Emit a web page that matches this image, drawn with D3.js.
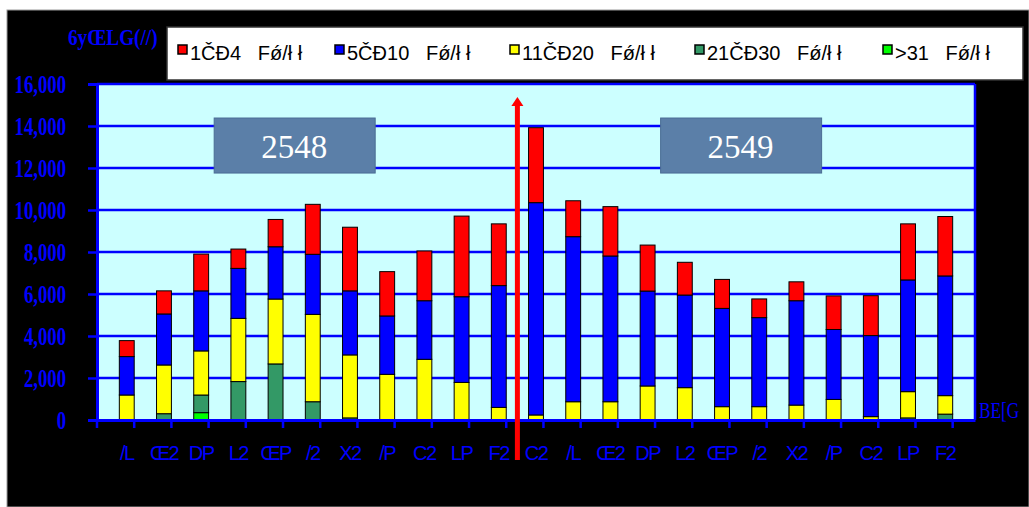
<!DOCTYPE html>
<html>
<head>
<meta charset="utf-8">
<script src="https://cdn.jsdelivr.net/npm/d3@7"></script>
<style>
  body { margin: 0; background: #fff; }
  svg { display: block; }
</style>
</head>
<body>
<svg width="1029" height="507"></svg>
<script>
// month labels as they show on the chart (year 2548: Feb-Dec, 2549: Jan-Dec)
var months = ["/L","Œ2","DP","L2","ŒP","/2","X2","/P","C2","LP","F2",
              "C2","/L","Œ2","DP","L2","ŒP","/2","X2","/P","C2","LP","F2"];
var yTicks = [0, 2000, 4000, 6000, 8000, 10000, 12000, 14000, 16000];
var tickText = ["0","2,000","4,000","6,000","8,000","10,000","12,000","14,000","16,000"];

var seriesNames = ["1ČĐ4   Fǿ/ł ł", "5ČĐ10   Fǿ/ł ł", "11ČĐ20   Fǿ/ł ł", "21ČĐ30   Fǿ/ł ł", ">31   Fǿ/ł ł"];
var seriesColors = ["#ff0000", "#0000ff", "#ffff00", "#339966", "#00ff00"];

var s1to4   = [760,1100,1750,920,1300,2380,3030,2110,2370,3840,2940, 3570,1710,2350,2190,1560,1380,890,900,1600,1900,2670,2830];
var s5to10  = [1830,2430,2860,2380,2490,2860,3050,2780,2790,4080,5800, 10110,7860,6940,4520,4410,4680,4240,4970,3330,3860,5320,5700];
var s11to20 = [1190,2320,2100,3010,3090,4160,3000,2175,2890,1790,600, 240,870,870,1620,1540,635,635,710,980,160,1250,880];
var s21to30 = [0,300,840,1830,2670,870,100,0,0,0,0, 0,0,0,0,0,0,0,0,0,0,100,280];
var s31     = [0,0,350,0,0,0,0,0,0,0,0, 0,0,0,0,0,0,0,0,0,0,0,0];

var years = ["2548", "2549"];

function main(){
    var svg = d3.select("svg");
    var left = 97, right = 975, top = 84, bottom = 420;

    // outer black frame
    svg.append("rect").attr("x", 7).attr("y", 10).attr("width", 1022).attr("height", 497)
        .attr("fill", "#000").attr("stroke", "#999").attr("stroke-width", 1);

    var table = months.map(function(m, i){
        return { key: i, label: m, g31: s31[i], g21: s21to30[i], g11: s11to20[i], g5: s5to10[i], g1: s1to4[i] };
    });
    var keys = ["g31", "g21", "g11", "g5", "g1"];
    var keyColor = { g1: seriesColors[0], g5: seriesColors[1], g11: seriesColors[2], g21: seriesColors[3], g31: seriesColors[4] };

    var xScale = d3.scaleBand().domain(table.map(function(d){ return d.key; }))
        .range([left, right]).padding(0.6);
    var yScale = d3.scaleLinear().domain([0, 16000]).range([bottom, top]);

    // plot area
    svg.append("rect").attr("x", left).attr("y", top).attr("width", right - left).attr("height", bottom - top)
        .attr("fill", "#ccffff");

    // grid lines
    svg.append("g").selectAll("line").data(yTicks.slice(1)).enter().append("line")
        .attr("x1", left).attr("x2", right)
        .attr("y1", function(d){ return yScale(d); }).attr("y2", function(d){ return yScale(d); })
        .attr("stroke", "#0000ff").attr("stroke-width", 2.5);
    svg.append("line").attr("x1", right).attr("x2", right).attr("y1", top).attr("y2", bottom)
        .attr("stroke", "#0000ff").attr("stroke-width", 2.5);

    // year boxes
    var step = xScale.step();
    function boundary(i){ return xScale(i) - (step - xScale.bandwidth()) / 2; }
    var boxCenters = [boundary(5), boundary(17)];
    var yb = svg.append("g").selectAll("g").data(years).enter().append("g");
    yb.append("rect")
        .attr("x", function(d, i){ return boxCenters[i] - 80; })
        .attr("y", yScale(14380)).attr("width", 161).attr("height", yScale(11760) - yScale(14380))
        .attr("fill", "#5b7fa8").attr("stroke", "#4a6c94").attr("stroke-width", 1);
    yb.append("text")
        .attr("x", function(d, i){ return boxCenters[i]; })
        .attr("y", (yScale(14380) + yScale(11760)) / 2 + 12)
        .attr("text-anchor", "middle").attr("fill", "#fff")
        .style("font-family", "Liberation Serif").style("font-size", "33px")
        .text(function(d){ return d; });

    // stacked bars
    var stacked = d3.stack().keys(keys)(table);
    svg.append("g").selectAll("g").data(stacked).enter().append("g")
        .attr("fill", function(s){ return keyColor[s.key]; })
        .selectAll("rect").data(function(s){ return s.filter(function(d){ return d[1] - d[0] > 0; }); })
        .enter().append("rect")
        .attr("x", function(d){ return xScale(d.data.key); })
        .attr("y", function(d){ return yScale(d[1]); })
        .attr("width", xScale.bandwidth())
        .attr("height", function(d){ return yScale(d[0]) - yScale(d[1]); })
        .attr("stroke", "#000").attr("stroke-width", 1);

    // y axis (labels drawn condensed, like the original's squeezed bold serif)
    var yAxis = svg.append("g").attr("transform", "translate(" + left + ",0)")
        .call(d3.axisLeft(yScale).tickValues(yTicks).tickSize(9)
            .tickFormat(function(d, i){ return tickText[i]; }));
    yAxis.select(".domain").attr("stroke", "#0000ff").attr("stroke-width", 3);
    yAxis.selectAll(".tick line").attr("stroke", "#0000ff").attr("stroke-width", 2.5);
    yAxis.selectAll(".tick text").remove();
    yAxis.selectAll(".tick").append("text")
        .attr("transform", "translate(-31,8) scale(0.72,1)")
        .attr("text-anchor", "end").attr("fill", "#0000ff")
        .attr("font-family", "Liberation Serif").attr("font-weight", "bold").attr("font-size", 26)
        .text(function(d, i){ return tickText[i]; });

    // x axis
    var xAxis = svg.append("g").attr("transform", "translate(0," + bottom + ")")
        .call(d3.axisBottom(xScale).tickSize(0).tickPadding(26)
            .tickFormat(function(d){ return months[d]; }));
    xAxis.select(".domain").attr("stroke", "#0000ff").attr("stroke-width", 3);
    xAxis.selectAll(".tick text").attr("fill", "#0000ff")
        .attr("font-family", "Liberation Sans").attr("font-size", 20)
        .attr("letter-spacing", "-1.5px");
    // tick marks between categories
    svg.append("g").selectAll("line").data(d3.range(table.length + 1)).enter().append("line")
        .attr("x1", function(i){ return left + i * step; }).attr("x2", function(i){ return left + i * step; })
        .attr("y1", bottom).attr("y2", bottom + 8)
        .attr("stroke", "#0000ff").attr("stroke-width", 2.5);

    // axis titles
    svg.append("text").attr("transform", "translate(68,45) scale(0.8,1)")
        .attr("fill", "#0000ff").attr("font-family", "Liberation Serif").attr("font-weight", "bold")
        .attr("font-size", 24).text("6yŒLG(//)");
    svg.append("text").attr("transform", "translate(979,418) scale(0.75,1)")
        .attr("fill", "#0000ff").attr("font-family", "Liberation Serif").attr("font-size", 23)
        .text("BE[G");

    // red divider arrow
    var ax = boundary(11);
    svg.append("line").attr("x1", ax).attr("x2", ax).attr("y1", 460).attr("y2", 104)
        .attr("stroke", "#ff0000").attr("stroke-width", 5);
    svg.append("path")
        .attr("d", "M" + (ax - 6) + ",106 L" + ax + ",97 L" + (ax + 6) + ",106 Z")
        .attr("fill", "#ff0000");

    // legend
    var lg = svg.append("g");
    lg.append("rect").attr("x", 167).attr("y", 27).attr("width", 856).attr("height", 53)
        .attr("fill", "#fff").attr("stroke", "#333").attr("stroke-width", 1.5);
    var legX = [178, 335, 510, 695, 883];
    var item = lg.selectAll("g").data(seriesNames).enter().append("g")
        .attr("transform", function(d, i){ return "translate(" + legX[i] + ",50)"; });
    item.append("rect").attr("width", 9).attr("height", 9).attr("y", -5)
        .attr("fill", function(d, i){ return seriesColors[i]; })
        .attr("stroke", "#000").attr("stroke-width", 1.5);
    item.append("text").attr("x", 12).attr("y", 10)
        .style("font-family", "Liberation Sans").style("font-size", "20px").attr("fill", "#000")
        .style("white-space", "pre")
        .text(function(d){ return d; });
}
main();
</script>
</body>
</html>
